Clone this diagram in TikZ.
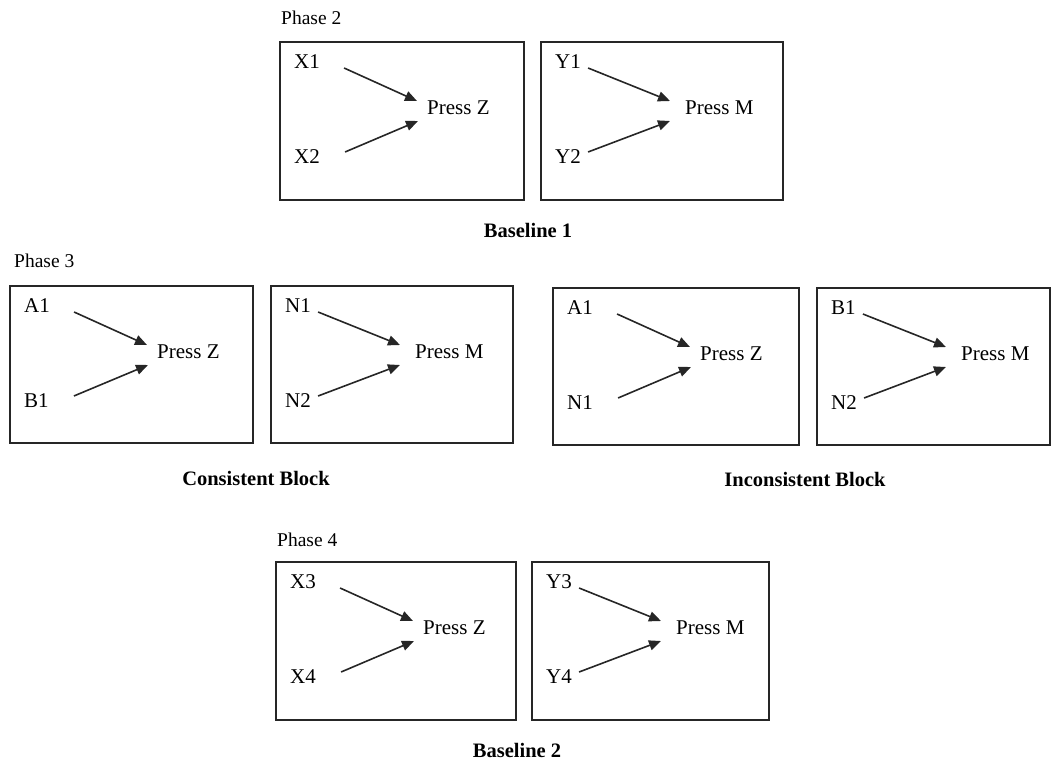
\documentclass[tikz,border=0pt]{standalone}
\usepackage{fontspec}
\setmainfont{Liberation Serif}
\usetikzlibrary{arrows.meta}
\tikzset{
  panelbox/.style={draw=black!85, line width=1.8pt},
  lbl/.style={inner sep=0pt, anchor=west, font=\fontsize{21}{23}\selectfont},
  captext/.style={inner sep=0pt, font=\fontsize{20.5}{23}\selectfont\bfseries},
  phase/.style={inner sep=0pt, anchor=west, font=\fontsize{19.5}{21}\selectfont},
  arr/.style={line width=1.6pt, black!85, -{Triangle[length=12pt,width=10pt]}},
}
% \zpanel{prefix}{left}{top}{right}{bottom}{label1}{label2}{press text}
\newcommand{\zpanel}[8]{%
  \node[panelbox, inner sep=0pt, minimum width={#4-#2}, minimum height={#5-#3}, anchor=north west] (#1box) at (#2,#3) {};
  \node[lbl] (#1a) at (#2+15,#3+21) {#6};
  \node[lbl] (#1b) at (#2+15,#3+116) {#7};
  \node[lbl] (#1p) at (#2+148,#3+67) {#8};
  \draw[arr] ([shift={(24,6)}]#1a.east) -- ([shift={(-10,-7)}]#1p.west);
  \draw[arr] ([shift={(25,-5)}]#1b.east) -- ([shift={(-9,13)}]#1p.west);
}
\newcommand{\mpanel}[8]{%
  \node[panelbox, inner sep=0pt, minimum width={#4-#2}, minimum height={#5-#3}, anchor=north west] (#1box) at (#2,#3) {};
  \node[lbl] (#1a) at (#2+15,#3+21) {#6};
  \node[lbl] (#1b) at (#2+15,#3+116) {#7};
  \node[lbl] (#1p) at (#2+145,#3+67) {#8};
  \draw[arr] ([shift={(7,6)}]#1a.east) -- ([shift={(-15,-7)}]#1p.west);
  \draw[arr] ([shift={(7,-5)}]#1b.east) -- ([shift={(-15,13)}]#1p.west);
}
\begin{document}
\begin{tikzpicture}[x=1pt, y=-1pt]
\useasboundingbox (0,0) rectangle (1051,762);
\clip (0,0) rectangle (1051,762);
% Phase 2
\node[phase] (ph2) at (281,18) {Phase 2};
\zpanel{p}{279}{41}{523}{199}{X1}{X2}{Press Z}
\mpanel{q}{540}{41}{782}{199}{Y1}{Y2}{Press M}
\node[captext] (bl1) at (528,230) {Baseline 1};
% Phase 3
\node[phase] (ph3) at (14,261) {Phase 3};
\zpanel{c}{9}{285}{252}{442}{A1}{B1}{Press Z}
\mpanel{d}{270}{285}{512}{442}{N1}{N2}{Press M}
\node[captext] (cb) at (256,478) {Consistent Block};
\zpanel{e}{552}{287}{798}{444}{A1}{N1}{Press Z}
\mpanel{f}{816}{287}{1049}{444}{B1}{N2}{Press M}
\node[captext] (ib) at (805,479) {Inconsistent Block};
% Phase 4
\node[phase] (ph4) at (277,540) {Phase 4};
\zpanel{g}{275}{561}{515}{719}{X3}{X4}{Press Z}
\mpanel{h}{531}{561}{768}{719}{Y3}{Y4}{Press M}
\node[captext] (bl2) at (517,750) {Baseline 2};
\end{tikzpicture}
\end{document}
